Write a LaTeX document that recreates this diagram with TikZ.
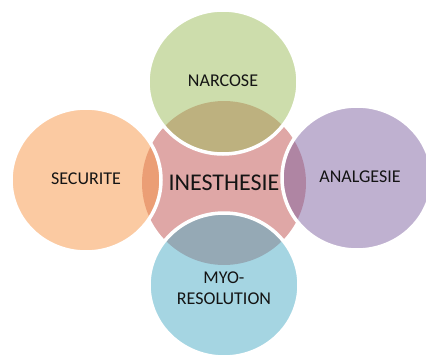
\documentclass[tikz,border=0pt]{standalone}
\usepackage{fontspec}
\setmainfont{Carlito}
\usetikzlibrary{shapes.geometric}
\definecolor{hubred}{HTML}{C0504D}
\definecolor{olive}{HTML}{9BBB59}
\definecolor{tangerine}{HTML}{F79646}
\definecolor{lilac}{HTML}{8064A2}
\definecolor{aqua}{HTML}{4BACC6}
\definecolor{ink}{HTML}{141414}
\tikzset{
  petal/.style={ellipse, minimum width=150pt, minimum height=144pt, inner sep=0pt,
    fill opacity=0.5, text opacity=1, draw=white, line width=3.5pt},
  lbl/.style={font=\fontsize{18}{21}\selectfont, text=ink, align=center, inner sep=0pt},
  hub/.style={circle, minimum size=164pt, inner sep=0pt, fill=hubred,
    fill opacity=0.5, text opacity=1, text=ink, font=\fontsize{24}{28}\selectfont}
}
\begin{document}
\begin{tikzpicture}[x=1pt, y=-1pt]
  \useasboundingbox (0,0) rectangle (426,356);
  % central disc
  \node[hub] (core) at (224,183) {INESTHESIE};
  % surrounding circles
  \node[petal, fill=olive]     (narc) at (223,82)  {};
  \node[petal, fill=tangerine] (secu) at (86,180)  {};
  \node[petal, fill=lilac]     (anal) at (357,178) {};
  \node[petal, fill=aqua]      (myo)  at (224,285) {};
  % labels
  \node[lbl] (narcT) at (223,81)  {NARCOSE};
  \node[lbl] (secuT) at (86,179)  {SECURITE};
  \node[lbl] (analT) at (360,177) {ANALGESIE};
  \node[lbl] (myoT)  at (224,288) {MYO-\\RESOLUTION};
\end{tikzpicture}
\end{document}
